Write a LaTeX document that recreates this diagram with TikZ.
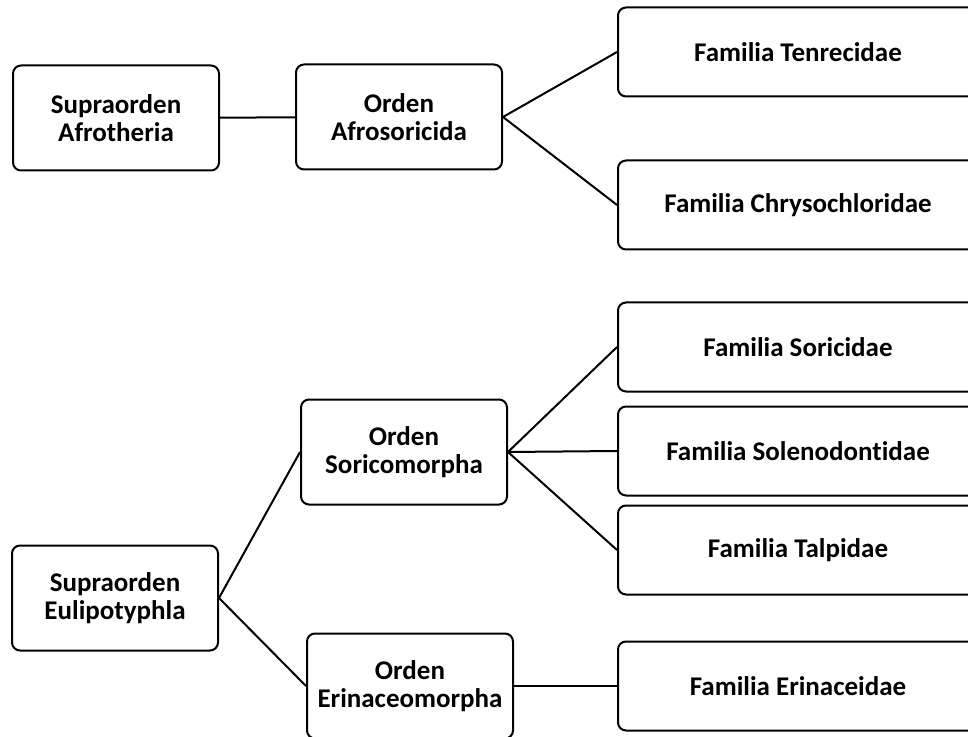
\documentclass[tikz,border=0pt]{standalone}
\usepackage{fontspec}
\setmainfont{Carlito}[Ligatures=NoCommon]
\usetikzlibrary{positioning}

\tikzstyle{link} = [line width=1pt, draw=black]
\tikzstyle{taxon} = [rectangle, draw=black, line width=1pt, rounded corners=4pt, align=center, font=\fontsize{13.5}{13.9}\selectfont\bfseries, anchor=center]
\tikzstyle{suborden} = [taxon, minimum width=103pt, minimum height=52.5pt]
\tikzstyle{familia} = [taxon, minimum width=180pt, minimum height=44.5pt]

\begin{document}
\begin{tikzpicture}[
    x=0.5pt, y=-0.5pt
]
\useasboundingbox (0,0) rectangle (968,737);

% Afrotheria
\node[suborden] (afro)    at (116,118) {Supraorden\\Afrotheria};
\node[suborden] (afrosor) at (399,117) {Orden\\Afrosoricida};
\node[familia]  (tenrec)  at (798,52)  {Familia Tenrecidae};
\node[familia]  (chryso)  at (798,205) {Familia Chrysochloridae};

% Eulipotyphla
\node[suborden] (euli)     at (115,598) {Supraorden\\Eulipotyphla};
\node[suborden] (sorico)   at (404,452) {Orden\\Soricomorpha};
\node[suborden] (erinaceo) at (410,686) {Orden\\Erinaceomorpha};
\node[familia]  (soric)    at (798,347) {Familia Soricidae};
\node[familia]  (soleno)   at (798,451) {Familia Solenodontidae};
\node[familia]  (talp)     at (798,550) {Familia Talpidae};
\node[familia]  (erinac)   at (798,686) {Familia Erinaceidae};

% Lines
\draw[link] (afro) -- (afrosor);
\draw[link] (afrosor.east) -- (tenrec.west);
\draw[link] (afrosor.east) -- (chryso.west);
\draw[link] (euli.east) -- (sorico.west);
\draw[link] (euli.east) -- (erinaceo.west);
\draw[link] (sorico.east) -- (soric.west);
\draw[link] (sorico.east) -- (soleno.west);
\draw[link] (sorico.east) -- (talp.west);
\draw[link] (erinaceo.east) -- (erinac.west);

\end{tikzpicture}
\end{document}
